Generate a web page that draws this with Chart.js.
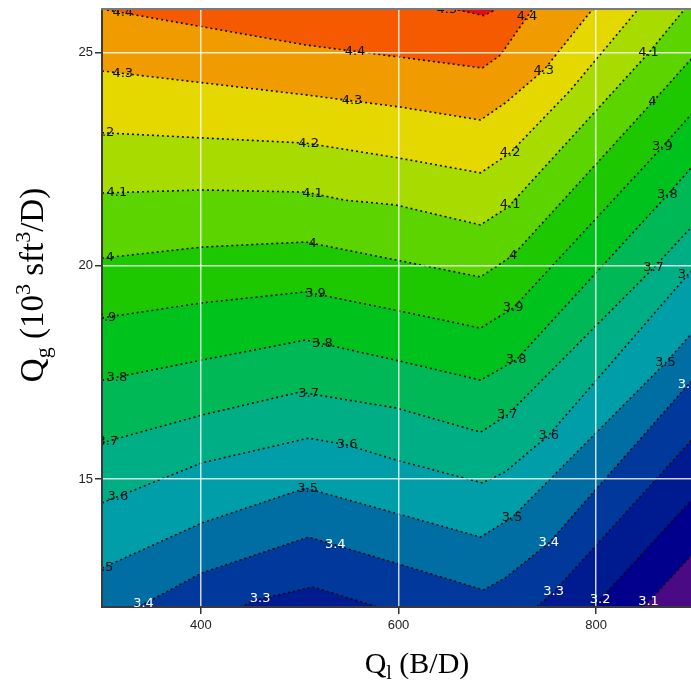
<!DOCTYPE html>
<html>
<head>
<meta charset="utf-8">
<script src="https://cdn.jsdelivr.net/npm/chart.js@4.4.1/dist/chart.umd.min.js"></script>
<style>
html, body { margin: 0; padding: 0; background: #fff; overflow: hidden; }
canvas { display: block; }
</style>
</head>
<body>
<canvas id="contour" width="700" height="681"></canvas>
<script>
// axes
const xTicks = [400, 600, 800];
const yTicks = [15, 20, 25];

// contour levels and the colour of the band just below each one
const levels = [3.1, 3.2, 3.3, 3.4, 3.5, 3.6, 3.7, 3.8, 3.9, 4.0, 4.1, 4.2, 4.3, 4.4, 4.5];
const bandColors = ["#4a0a84", "#00008c", "#001a90", "#00389c", "#006ea2", "#009ea8", "#00ae86",
    "#00b855", "#00c21c", "#1ec800", "#5cd400", "#a8dc00", "#e4d800", "#f09b00", "#f55a00"];
const topColor = "#e50d0d";

// contour lines [Ql, Qg], clamped to the frame where they leave it
const c31 = [[300, 12], [848, 12], [900, 13.3]];
const c32 = [[300, 12], [797, 12], [900, 14.6]];
const c33 = [[300, 12], [440, 12], [455, 12.16], [513, 12.47], [579, 12], [740, 12], [757, 12.35], [900, 16.0]];
const c34 = [[300, 12], [328, 12], [344, 12.09], [401, 12.8], [509, 13.64], [597, 13.03], [686, 12.4], [708, 12.68], [752, 13.5], [893, 17.21], [900, 17.38]];
const c35 = [[300, 12.91], [401, 13.97], [506, 14.79], [597, 14.2], [683, 13.64], [715, 14.1], [870, 17.72], [900, 18.5]];
const c36 = [[300, 14.44], [401, 15.38], [509, 15.96], [548, 15.8], [597, 15.45], [685, 14.91], [708, 15.17], [752, 16.03], [893, 19.8], [900, 19.95]];
const c37 = [[300, 15.85], [401, 16.5], [500, 17.04], [597, 16.67], [683, 16.1], [710, 16.5], [858, 19.95], [900, 21.0]];
const c38 = [[300, 17.32], [401, 17.79], [506, 18.26], [597, 17.79], [683, 17.32], [719, 17.79], [872, 21.66], [900, 22.4]];
const c39 = [[300, 18.78], [401, 19.13], [506, 19.39], [597, 18.96], [683, 18.54], [716, 19.01], [867, 22.79], [900, 23.65]];
const c40 = [[300, 20.18], [401, 20.44], [506, 20.56], [597, 20.14], [683, 19.74], [716, 20.25], [857, 23.84], [900, 24.95]];
const c41 = [[300, 21.71], [401, 21.78], [506, 21.73], [546, 21.54], [597, 21.43], [683, 20.96], [711, 21.38], [853, 24.99], [887, 25.95], [890, 26], [900, 26]];
const c42 = [[300, 23.12], [506, 22.88], [600, 22.53], [683, 22.18], [713, 22.65], [774, 24.12], [840, 25.95], [843, 26], [900, 26]];
const c43 = [[300, 24.57], [506, 24.01], [546, 23.89], [600, 23.73], [683, 23.42], [708, 23.82], [747, 24.59], [794, 25.95], [797, 26], [900, 26]];
const c44 = [[300, 26], [305, 26], [310, 25.98], [506, 25.18], [546, 25.06], [600, 24.9], [685, 24.64], [703, 24.94], [735, 26], [900, 26]];
const c45 = [[300, 26], [660, 26], [686, 25.87], [698, 26], [900, 26]];
const contours = [c31, c32, c33, c34, c35, c36, c37, c38, c39, c40, c41, c42, c43, c44, c45];

// inline labels: level and Ql where the label sits on its line
const labelLevels = [4.5, 4.4, 4.4, 4.4, 4.3, 4.3, 4.3, 4.2, 4.2, 4.2, 4.1, 4.1, 4.1, 4.1,
    4.0, 4.0, 4.0, 4.0, 3.9, 3.9, 3.9, 3.9, 3.8, 3.8, 3.8, 3.8, 3.7, 3.7, 3.7, 3.7,
    3.6, 3.6, 3.6, 3.6, 3.5, 3.5, 3.5, 3.5, 3.4, 3.4, 3.4, 3.4, 3.3, 3.3, 3.2, 3.1];
const labelXs = [649, 321, 556, 730, 321, 553, 747, 302, 509, 713, 315, 513, 713, 853,
    308, 513, 716, 857, 304, 516, 716, 867, 315, 523, 719, 872, 306, 509, 710, 858,
    316, 548, 752, 893, 301, 508, 715, 870, 342, 536, 752, 893, 460, 757, 804, 853];

const Y_MIN = 12;
const Y_MAX = 26;

function valueOnContour(line, x) {
    for (let i = 1; i < line.length; i++) {
        const [x0, y0] = line[i - 1];
        const [x1, y1] = line[i];
        if (x <= x1) return y0 + (y1 - y0) * (x - x0) / (x1 - x0);
    }
    return line[line.length - 1][1];
}

function onFrame(a, b) {
    return (a >= Y_MAX && b >= Y_MAX) || (a <= Y_MIN && b <= Y_MIN);
}

// dashed line: same points, broken wherever the contour runs along the frame
function dashedPoints(line) {
    const out = [];
    line.forEach(([x, y], i) => {
        if (i > 0 && onFrame(line[i - 1][1], y)) {
            out.push({ x: (line[i - 1][0] + x) / 2, y: null });
        }
        out.push({ x, y });
    });
    return out;
}

const plotBackground = {
    id: "plotBackground",
    beforeDatasetsDraw(chart) {
        const { ctx, chartArea: a } = chart;
        ctx.save();
        ctx.fillStyle = topColor;
        ctx.fillRect(a.left, a.top, a.right - a.left, a.bottom - a.top);
        ctx.restore();
    },
};

const contourLabels = {
    id: "contourLabels",
    afterDraw(chart) {
        const { ctx, chartArea: a, scales } = chart;
        ctx.save();
        ctx.beginPath();
        ctx.rect(a.left, a.top, a.right - a.left, a.bottom - a.top);
        ctx.clip();
        ctx.font = '13px "DejaVu Sans"';
        ctx.textAlign = "center";
        ctx.textBaseline = "middle";
        labelLevels.forEach((lv, k) => {
            const line = contours[levels.indexOf(lv)];
            const px = scales.x.getPixelForValue(labelXs[k]);
            const py = scales.y.getPixelForValue(valueOnContour(line, labelXs[k]));
            ctx.fillStyle = lv <= 3.4 ? "#ffffff" : "#111111";
            ctx.fillText(String(lv), px, py);
        });
        ctx.restore();

        // top edge of the frame
        ctx.save();
        ctx.strokeStyle = "#7a7a7a";
        ctx.lineWidth = 2;
        ctx.beginPath();
        ctx.moveTo(a.left - 1, a.top - 1);
        ctx.lineTo(a.right, a.top - 1);
        ctx.stroke();
        ctx.restore();
    },
};

function drawRich(ctx, parts, x, y) {
    let w = 0;
    parts.forEach((p) => {
        ctx.font = `${p[1]}px "Liberation Serif"`;
        w += ctx.measureText(p[0]).width;
    });
    let cx = x - w / 2;
    parts.forEach((p) => {
        ctx.font = `${p[1]}px "Liberation Serif"`;
        ctx.fillText(p[0], cx, y + p[2]);
        cx += ctx.measureText(p[0]).width;
    });
}

const axisTitles = {
    id: "axisTitles",
    afterDraw(chart) {
        const { ctx } = chart;
        ctx.save();
        ctx.fillStyle = "#000";
        ctx.textAlign = "left";
        ctx.textBaseline = "alphabetic";
        drawRich(ctx, [["Q", 30, 0], ["l", 20, 6], [" (B/D)", 30, 0]], 417, 673);
        ctx.translate(43, 285);
        ctx.rotate(-Math.PI / 2);
        drawRich(ctx, [["Q", 33, 0], ["g", 22, 6.5], [" (10", 33, 0], ["3", 22, -13],
            [" sft", 33, 0], ["3", 22, -13], ["/D)", 33, 0]], 0, 0);
        ctx.restore();
    },
};

const fillSets = levels.map((lv, i) => ({
    label: `band ${lv}`,
    data: contours[i].map(([x, y]) => ({ x, y })),
    fill: "start",
    backgroundColor: bandColors[i],
    borderWidth: 0,
    pointRadius: 0,
    tension: 0,
    clip: 0,
    order: 1,
}));

const lineSets = levels.map((lv, i) => ({
    label: `contour ${lv}`,
    data: dashedPoints(contours[i]),
    fill: false,
    spanGaps: false,
    borderColor: "#0d0d0d",
    borderWidth: 1.6,
    borderDash: [2, 3],
    pointRadius: 0,
    tension: 0,
    clip: 0,
    order: 0,
}));

const gridStyle = {
    color: "rgba(255,255,255,0.8)",
    lineWidth: 1.5,
    tickColor: "#333",
    tickLength: 7,
    tickWidth: 1.5,
    z: 1,
};

new Chart(document.getElementById("contour"), {
    type: "line",
    data: { datasets: [...lineSets, ...fillSets] },
    options: {
        responsive: false,
        animation: false,
        events: [],
        layout: { padding: { top: 10, right: 5, left: 0, bottom: 0 } },
        plugins: { legend: { display: false }, tooltip: { enabled: false } },
        scales: {
            x: {
                type: "linear",
                min: 300,
                max: 900,
                afterBuildTicks: (s) => { s.ticks = xTicks.map((v) => ({ value: v })); },
                afterFit: (s) => { s.height = 74; },
                grid: gridStyle,
                border: { color: "#3a3a3a", width: 2, z: 2 },
                ticks: { font: { family: "Liberation Sans", size: 13 }, color: "#222", padding: 4, maxRotation: 0, autoSkip: false },
            },
            y: {
                type: "linear",
                min: Y_MIN,
                max: Y_MAX,
                afterBuildTicks: (s) => { s.ticks = yTicks.map((v) => ({ value: v })); },
                afterFit: (s) => { s.width = 102; },
                grid: gridStyle,
                border: { color: "#3a3a3a", width: 2, z: 2 },
                ticks: { font: { family: "Liberation Sans", size: 13 }, color: "#222", padding: 2, autoSkip: false },
            },
        },
    },
    plugins: [plotBackground, contourLabels, axisTitles],
});
</script>
</body>
</html>
